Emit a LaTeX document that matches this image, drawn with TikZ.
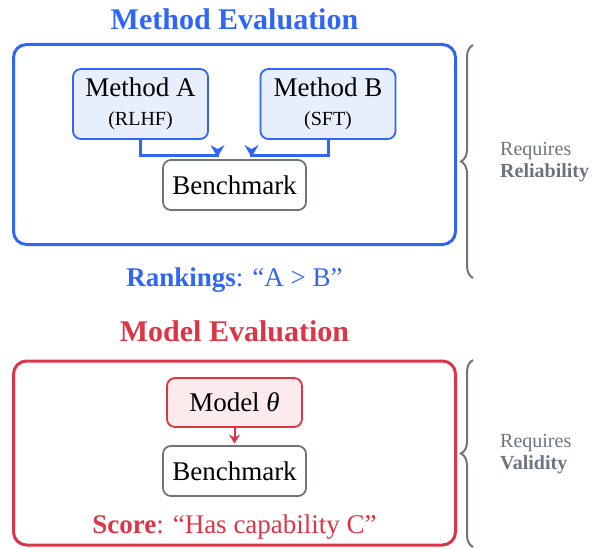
\documentclass[tikz,border=0pt]{standalone}
\usepackage{fontspec}
\setmainfont{Liberation Serif}
\usetikzlibrary{arrows.meta,decorations.pathreplacing,calc}
\definecolor{cblue}{HTML}{2F66F5}
\definecolor{cred}{HTML}{DC3545}
\definecolor{cgrey}{HTML}{6C757D}
\definecolor{lblue}{HTML}{E8EEFC}
\definecolor{lred}{HTML}{FCEBEC}
\begin{document}
\begin{tikzpicture}[x=1pt,y=-1pt,
  big/.style={font=\fontsize{27}{32}\selectfont},
  ttl/.style={font=\fontsize{30}{36}\selectfont\bfseries},
  sml/.style={font=\fontsize{20}{24}\selectfont},
  outerbox/.style={draw, line width=3pt, rounded corners=13pt, inner sep=0pt},
  inbox/.style={draw, line width=1.8pt, rounded corners=8pt, inner sep=0pt},
  benchbox/.style={inbox, draw=cgrey, fill=white, minimum width=143pt, minimum height=50pt, big},
  bconn/.style={draw=cblue, line width=3pt, -{Stealth[length=12pt,width=14pt,inset=4pt]}},
  rconn/.style={draw=cred, line width=2pt, -{Stealth[length=9pt,width=11pt,inset=3pt]}},
  bracestyle/.style={draw=cgrey, line width=2pt, decorate, decoration={brace, amplitude=12pt}},
  reqtext/.style={sml, text=cgrey, anchor=base west, inner sep=0pt}
]
\useasboundingbox (0,0) rectangle (593,548);

% ---------- Method evaluation ----------
\node[ttl, text=cblue] (t1) at (234.5,19) {Method Evaluation};
\node[outerbox, draw=cblue, minimum width=442pt, minimum height=200pt] (ob1) at (234.5,144.5) {};

\node[inbox, draw=cblue, fill=lblue, minimum width=135pt, minimum height=70pt] (ma) at (140.5,104) {};
\node[big, anchor=base, inner sep=0pt] (maT) at (140.5,97) {Method A};
\node[sml, anchor=base, inner sep=0pt] (maS) at (140.5,126) {(RLHF)};

\node[inbox, draw=cblue, fill=lblue, minimum width=135pt, minimum height=70pt] (mb) at (328,104) {};
\node[big, anchor=base, inner sep=0pt] (mbT) at (328,97) {Method B};
\node[sml, anchor=base, inner sep=0pt] (mbS) at (328,126) {(SFT)};

\node[benchbox] (bench1) at (234.5,185) {Benchmark};

\coordinate (ja) at ($(bench1.north)+(-17,-3.5)$);
\coordinate (jb) at ($(bench1.north)+(-17,-2)$);
\coordinate (jc) at ($(bench1.north)+(17,-3.5)$);
\coordinate (jd) at ($(bench1.north)+(17,-2)$);
\draw[bconn] (ma.south) |- (ja) -- (jb);
\draw[bconn] (mb.south) |- (jc) -- (jd);

\node[big, text=cblue, anchor=base] (rank) at (234.5,286.5) {\textbf{Rankings}: “A > B”};

% ---------- Model evaluation ----------
\node[ttl, text=cred] (t2) at (234.5,331) {Model Evaluation};
\node[outerbox, draw=cred, minimum width=442pt, minimum height=184pt] (ob2) at (234.5,453) {};

\node[inbox, draw=cred, fill=lred, minimum width=135pt, minimum height=49pt, big] (model) at (234.5,402.5) {Model \textit{θ}};
\node[benchbox] (bench2) at (234.5,471) {Benchmark};
\draw[rconn] (model.south) -- ($(bench2.north)+(0,-1.5)$);

\node[big, text=cred, anchor=base] (score) at (234.5,533) {\textbf{Score}: “Has capability C”};

% ---------- Braces ----------
\coordinate (b1t) at (473,45);
\coordinate (b1b) at (473,278);
\coordinate (b2t) at (473,360);
\coordinate (b2b) at (473,547);
\draw[bracestyle] (b1b) -- (b1t);
\draw[bracestyle] (b2b) -- (b2t);

\node[reqtext] (r1) at (500,155) {Requires};
\node[reqtext] (r1b) at (500,177) {\textbf{Reliability}};
\node[reqtext] (r2) at (500,447) {Requires};
\node[reqtext] (r2b) at (500,469) {\textbf{Validity}};
\end{tikzpicture}
\end{document}
